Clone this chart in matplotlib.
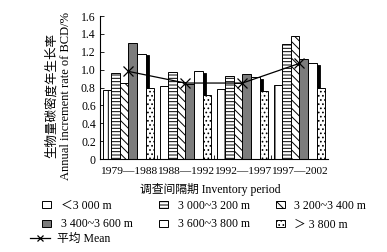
import matplotlib
matplotlib.use("Agg")
import matplotlib.pyplot as plt
import numpy as np

plt.rcParams["font.family"] = ["Liberation Serif", "Noto Sans CJK SC"]
plt.rcParams["font.size"] = 8.5
plt.rcParams["hatch.linewidth"] = 0.7

periods = ["1979\u20141988", "1988\u20141992", "1992\u20141997", "1997\u20142002"]
zone_labels = ["\uff1c3 000 m", "3 000~3 200 m", "3 200~3 400 m",
               "3 400~3 600 m", "3 600~3 800 m", "\uff1e 3 800 m"]
below_3000 = [0.77, 0.82, 0.78, 0.83]
z3000_3200 = [0.96, 0.97, 0.93, 1.29]
z3200_3400 = [0.85, 0.86, 0.85, 1.38]
z3400_3600 = [1.30, 0.84, 0.95, 1.12]
z3600_3800 = [1.18, 0.98, 0.92, 1.07]
above_3800 = [0.79, 0.72, 0.76, 0.80]
mean_rate = [0.98, 0.85, 0.85, 1.07]

series = [below_3000, z3000_3200, z3200_3400, z3400_3600, z3600_3800, above_3800]
styles = [
    dict(color="white", hatch="|"),
    dict(color="white", hatch="-----"),
    dict(color="white", hatch="\\\\\\\\"),
    dict(color="#7c7c7c", hatch=""),
    dict(color="white", hatch=""),
    dict(color="white", hatch="...."),
]

fig = plt.figure(figsize=(3.87, 2.52), dpi=100)
ax = fig.add_axes([0.2584, 0.369, 0.589, 0.5675])

x = np.arange(len(periods))
w = 0.15
handles = []
for i, (vals, st) in enumerate(zip(series, styles)):
    pos = x + (i - 2.5) * w
    if i == 4:
        # dark shadow on the right of the plain white bars
        ax.bar(pos + 0.35 * w, np.array(vals) - 0.02, w, color="black",
               edgecolor="black", linewidth=0.6, zorder=1)
    h = ax.bar(pos, vals, w, facecolor=st["color"], hatch=st["hatch"],
               edgecolor="black", linewidth=0.7, zorder=2, label=zone_labels[i])
    handles.append(h)

(mline,) = ax.plot(x, mean_rate, color="black", marker="x", markersize=7,
                   markeredgewidth=0.9, linewidth=0.9, zorder=5, label="平均 Mean")

ax.set_xlim(-0.5, 3.5)
ax.set_ylim(0, 1.6)
ax.set_yticks(np.arange(0, 1.61, 0.2))
ax.set_yticklabels(["0"] + [f"{v:.1f}" for v in np.arange(0.2, 1.61, 0.2)])
ax.set_xticks(x)
ax.set_xticklabels(periods, fontsize=8.2)
ax.set_xticks([0.5, 1.5, 2.5], minor=True)
ax.tick_params(axis="x", which="major", length=0, pad=6)
ax.tick_params(axis="x", which="minor", length=3, direction="in", width=0.6)
ax.tick_params(axis="y", direction="in", length=3, width=0.6, pad=3)
for s in ["top", "right"]:
    ax.spines[s].set_visible(False)
for s in ["left", "bottom"]:
    ax.spines[s].set_linewidth(0.8)

fig.text(59 / 387, 1 - 96 / 252,
         "生物量碳密度年生长率\nAnnual increment rate of BCD/%",
         rotation=90, ha="center", va="center", fontsize=9, linespacing=1.25)
fig.text(210 / 387, 1 - 189 / 252, "调查间隔期 Inventory period",
         ha="center", va="center")

order = [0, 3, 1, 4, 2, 5]
fig.legend([handles[k] for k in order], [zone_labels[k] for k in order],
           ncol=3, loc="upper left", bbox_to_anchor=(42 / 387, 1 - 200 / 252),
           frameon=False, handlelength=0.8, handleheight=0.55,
           handletextpad=0.8, columnspacing=2.2, labelspacing=0.55,
           borderpad=0, borderaxespad=0)
fig.legend([mline], ["平均 Mean"], loc="upper left",
           bbox_to_anchor=(30 / 387, 1 - 233 / 252), frameon=False,
           handlelength=1.7, handletextpad=0.6, borderpad=0, borderaxespad=0,
           markerscale=0.7)

fig.savefig("out.png", dpi=100)
